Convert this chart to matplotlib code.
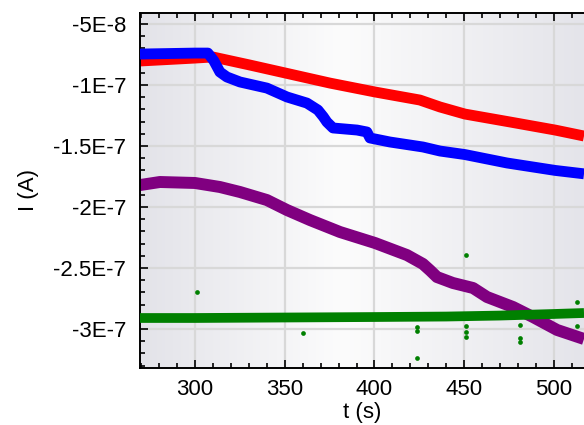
import matplotlib
matplotlib.use("Agg")
import matplotlib.pyplot as plt
import numpy as np
from matplotlib.colors import LinearSegmentedColormap
from matplotlib.ticker import MultipleLocator

# ----------------------------------
# Data (t in s, I in nA)
# ----------------------------------
red_t = [269.4, 286.1, 300.0, 310.0, 330.6, 352.9, 375.2, 400.3, 425.3, 436.5, 450.4, 475.5, 500.6, 516.7]
red_i = [-80.3, -79.0, -77.9, -77.0, -83.6, -91.0, -98.4, -105.7, -112.3, -118.0, -123.8, -130.3, -136.9, -141.8]

blue_t = [269.4, 300.0, 307.2, 310.5, 313.9, 317.8, 325.1, 340.1, 351.3, 362.4, 368.5, 371.5, 373.5, 376.9,
          390.3, 395.8, 397.5, 408.6, 427.0, 436.5, 450.4, 473.8, 500.6, 516.7]
blue_i = [-74.6, -73.8, -73.8, -80.0, -89.3, -93.4, -97.5, -102.5, -109.8, -114.8, -120.5, -126.0, -130.3, -135.2,
          -136.9, -138.5, -143.4, -146.7, -150.8, -154.1, -157.0, -163.9, -170.0, -172.8]

purple_t = [269.4, 280.5, 300.0, 313.9, 325.1, 340.1, 351.3, 364.1, 380.8, 400.3, 418.1, 427.0,
            431.0, 434.8, 443.7, 454.9, 462.7, 477.2, 488.3, 501.7, 516.7]
purple_i = [-182.0, -179.5, -180.3, -183.6, -187.7, -194.3, -202.5, -210.7, -220.5, -229.5, -239.4, -246.7,
            -252.0, -257.4, -262.3, -266.4, -273.8, -282.0, -290.2, -300.8, -308.2]

green_t = [269.4, 300.0, 350.0, 400.0, 440.0, 470.0, 500.0, 516.7]
green_i = [-291.0, -291.0, -290.6, -290.2, -289.8, -289.0, -287.7, -286.9]

# stray green points
green_out_t = [301.1, 360.2, 423.7, 423.7, 423.7, 451.0, 451.0, 451.0, 451.0, 481.1, 481.1, 481.1, 512.8, 512.8]
green_out_i = [-269.7, -303.3, -298.4, -301.6, -323.8, -239.4, -297.6, -302.5, -306.6, -296.7, -307.4, -310.7, -277.9, -297.6]

x_ticks = [300, 350, 400, 450, 500]
y_ticks = [-5e-8, -1e-7, -1.5e-7, -2e-7, -2.5e-7, -3e-7]
y_tick_labels = ["-5E-8", "-1E-7", "-1.5E-7", "-2E-7", "-2.5E-7", "-3E-7"]

nA = 1e-9

# ----------------------------------
# Plot
# ----------------------------------
plt.rcParams["font.family"] = ["Liberation Sans", "DejaVu Sans"]
plt.rcParams["font.size"] = 16

fig = plt.figure(figsize=(5.84, 4.25), dpi=100)
ax = fig.add_axes([0.2397, 0.1341, 0.7603, 0.836])
ax.patch.set_facecolor("none")

# soft horizontal background gradient
bg = LinearSegmentedColormap.from_list(
    "bg", [(0.0, "#e3e3e9"), (0.45, "#fcfcfc"), (1.0, "#e4e4ea")])
ax.imshow(np.linspace(0, 1, 256).reshape(1, -1), cmap=bg, aspect="auto",
          extent=[0, 1, 0, 1], transform=ax.transAxes, zorder=-1)

ax.grid(True, which="major", color="#d8d8d8", linewidth=1.6, zorder=0.5)
ax.set_axisbelow(True)

band = dict(solid_joinstyle="round", solid_capstyle="butt")
ax.plot(red_t, np.array(red_i) * nA, color="#ff0000", lw=7.8, zorder=2, **band)
ax.plot(blue_t, np.array(blue_i) * nA, color="#0000ff", lw=7.8, zorder=3, **band)
ax.plot(purple_t, np.array(purple_i) * nA, color="#800080", lw=8.6, zorder=2, **band)
ax.plot(green_t, np.array(green_i) * nA, color="#008000", lw=7.0, zorder=4, **band)
ax.plot(green_out_t, np.array(green_out_i) * nA, "o", color="#008000", ms=3.4, mec="none", zorder=4)

ax.set_xlim(269.4, 516.7)
ax.set_ylim(-332.0 * nA, -40.7 * nA)

ax.set_xticks(x_ticks)
ax.xaxis.set_minor_locator(MultipleLocator(10))
ax.set_yticks(y_ticks, y_tick_labels)
ax.yaxis.set_minor_locator(MultipleLocator(1e-8))

ax.tick_params(which="both", direction="in", top=True, right=False, width=1.2)
ax.tick_params(which="major", length=6, pad=10)
ax.tick_params(which="minor", length=3.5)
ax.tick_params(axis="x", pad=8)

for side in ["left", "top", "bottom"]:
    ax.spines[side].set_linewidth(1.4)
ax.spines["right"].set_visible(False)

ax.set_xlabel("t (s)", fontsize=16, labelpad=1)
ax.set_ylabel("I (A)", fontsize=16, labelpad=10)

fig.savefig("out.png", dpi=100)
